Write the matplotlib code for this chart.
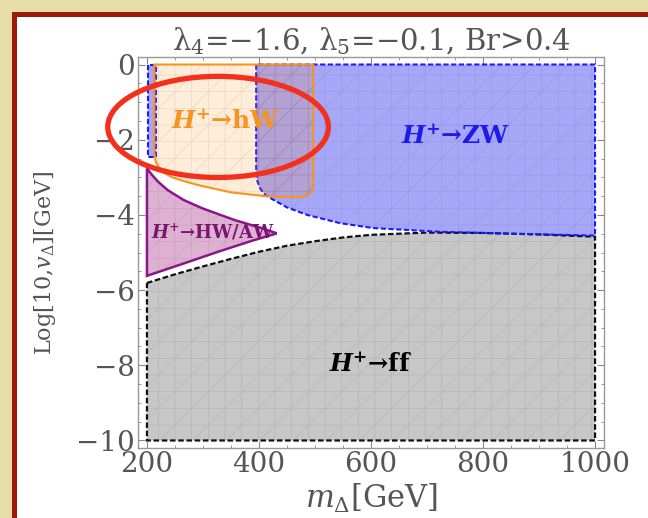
import numpy as np
import matplotlib
matplotlib.use("Agg")
import matplotlib.pyplot as plt
from matplotlib.patches import Polygon, Rectangle, Ellipse

plt.rcParams['font.family'] = ['DejaVu Serif']
plt.rcParams['mathtext.fontset'] = 'custom'
plt.rcParams['mathtext.rm'] = 'DejaVu Serif'
plt.rcParams['mathtext.it'] = 'DejaVu Serif:italic'
plt.rcParams['mathtext.bf'] = 'DejaVu Serif:bold'
plt.rcParams['mathtext.bfit'] = 'DejaVu Serif:italic:bold'
plt.rcParams['hatch.linewidth'] = 0.5

# ---- region boundaries (m_Delta [GeV], log10 v_Delta) ----
# H+ -> ff : from the bottom (-10) up to this curve
ff_mass = [200, 250, 300, 350, 400, 450, 500, 550, 600, 700, 800, 900, 1000]
ff_top = [-5.81, -5.58, -5.37, -5.17, -4.98, -4.82, -4.70, -4.60, -4.53, -4.47, -4.48, -4.52, -4.58]
ff_floor = -10

# H+ -> ZW : from the top (0) down to this curve
zw_mass = [395, 397, 403, 412, 426, 450, 486, 545, 604, 724, 850, 1000]
zw_low = [-2.85, -3.1, -3.32, -3.48, -3.6, -3.8, -4.0, -4.22, -4.35, -4.45, -4.5, -4.55]
# the thin ZW strip at low mass
zw_strip_mass = [201, 216]
zw_strip_low = -2.45

# H+ -> hW
hw_mass = [213, 213, 216, 222, 230, 245, 270, 295, 350, 410, 455, 480, 490, 495, 497, 497]
hw_low = [0, -2.35, -2.6, -2.75, -2.88, -3.0, -3.12, -3.22, -3.4, -3.5, -3.53, -3.52, -3.45, -3.35, -3.15, 0]

# H+ -> HW/AW
hwaw_mass_up = [200, 208, 220, 237, 265, 298, 357, 400, 430]
hwaw_up = [-2.76, -2.92, -3.12, -3.34, -3.6, -3.82, -4.14, -4.33, -4.48]
hwaw_mass_low = [200, 268, 327, 387, 430]
hwaw_low = [-5.62, -5.28, -4.98, -4.69, -4.5]

x_major = [200, 400, 600, 800, 1000]
y_major = [-10, -8, -6, -4, -2, 0]

fig = plt.figure(figsize=(6.48, 5.18), dpi=100)
fig.patch.set_facecolor('#e8dea8')
# red framed white panel (runs off the right and bottom edge)
fig.patches.append(Rectangle((12 / 648, -0.1), 1.1, 1 - 12 / 518 + 0.1,
                             transform=fig.transFigure, facecolor='#9a1a0c',
                             edgecolor='none', zorder=-2))
fig.patches.append(Rectangle((17 / 648, -0.1), 1.1, 1 - 17 / 518 + 0.1,
                             transform=fig.transFigure, facecolor='white',
                             edgecolor='none', zorder=-1))

ax = fig.add_axes([138 / 648, 1 - 448 / 518, 466 / 648, 391 / 518])
ax.set_facecolor('white')

mesh = dict(facecolor='none', edgecolor=(0.2, 0.2, 0.2, 0.11), hatch='/+', linewidth=0)


def region(xs, ys, face, edge, ls, lw, z):
    pts = np.column_stack([xs, ys])
    ax.add_patch(Polygon(pts, closed=True, facecolor=face, edgecolor='none', zorder=z))
    ax.add_patch(Polygon(pts, closed=True, zorder=z + 0.1, **mesh))
    ax.add_patch(Polygon(pts, closed=True, facecolor='none', edgecolor=edge,
                         linestyle=ls, linewidth=lw, zorder=z + 0.2))


# gray ff
region(ff_mass + [ff_mass[-1], ff_mass[0]], ff_top + [ff_floor, ff_floor],
       (0.5, 0.5, 0.5, 0.44), '#111111', (0, (2.5, 1.2)), 1.6, 1)
# blue ZW
region([zw_mass[0]] + zw_mass + [zw_mass[-1]], [0] + zw_low + [0],
       (0.05, 0.05, 0.95, 0.36), '#1a1aff', (0, (2.5, 1.2)), 1.5, 2)
region([zw_strip_mass[0], zw_strip_mass[0], zw_strip_mass[1], zw_strip_mass[1]],
       [0, zw_strip_low, zw_strip_low, 0],
       (0.05, 0.05, 0.95, 0.36), '#1a1aff', (0, (2.5, 1.2)), 1.5, 2)
# orange hW
region(hw_mass, hw_low, (1.0, 0.5, 0.0, 0.15), '#f7941d', '-', 1.5, 3)
# purple HW/AW
region(hwaw_mass_up + hwaw_mass_low[::-1], hwaw_up + hwaw_low[::-1],
       (0.6, 0.05, 0.45, 0.32), '#8a168a', '-', 1.8, 4)

ax.text(340, -1.53, r'$\mathbfit{H}^{\mathbf{+}}\mathbf{→hW}$', color='#f7941d',
        fontsize=18, ha='center', va='center', zorder=6)
ax.text(752, -1.93, r'$\mathbfit{H}^{\mathbf{+}}\mathbf{→ZW}$', color='#1c1ce6',
        fontsize=18, ha='center', va='center', zorder=6)
ax.text(318, -4.46, r'$\mathbfit{H}^{\mathbf{+}}\mathbf{→HW/AW}$', color='#7a146e',
        fontsize=13, ha='center', va='center', zorder=6)
ax.text(600, -8.0, r'$\mathbfit{H}^{\mathbf{+}}\mathbf{→ff}$', color='black',
        fontsize=17.5, ha='center', va='center', zorder=6)

ax.set_xlim(184, 1016)
ax.set_ylim(-10.2, 0.2)
ax.set_xticks(x_major)
ax.set_yticks(y_major)
ax.set_xticks(np.arange(200, 1001, 50), minor=True)
ax.set_yticks(np.arange(-10, 0.01, 0.5), minor=True)
ax.tick_params(which='both', direction='in', top=True, right=True, color='#888888',
               labelcolor='#555555', labelsize=20, pad=2)
ax.tick_params(which='major', length=5, width=0.8)
ax.tick_params(which='minor', length=2.5, width=0.6)
for sp in ax.spines.values():
    sp.set_color('#999999')
    sp.set_linewidth(1.0)

ax.set_title('λ$_4$=−1.6, λ$_5$=−0.1, Br>0.4', fontsize=21, color='#555555', pad=2)
ax.set_xlabel(r'$m_{\Delta}$[GeV]', fontsize=22, color='#555555', labelpad=3)
ax.set_ylabel(r'Log[10,$v_{\Delta}$][GeV]', fontsize=16, color='#555555')
ax.yaxis.set_label_coords(-0.172, 0.473)

# red highlight ellipse around the hW region
ring = Ellipse((327, -1.66), 394, 2.69, facecolor='none', edgecolor='#f2301c',
               linewidth=3.8, zorder=10, clip_on=False)
ax.add_patch(ring)

fig.savefig('out.png', dpi=100, facecolor=fig.get_facecolor())
